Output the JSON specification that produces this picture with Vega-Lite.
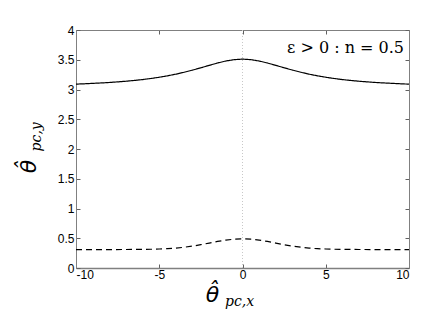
{
  "$schema": "https://vega.github.io/schema/vega-lite/v6.json",
  "width": 333,
  "height": 238,
  "autosize": {"type": "none"},
  "padding": {"left": 76, "top": 30, "right": 27, "bottom": 59},
  "background": "white",
  "config": {
    "view": {"stroke": null},
    "axis": {
      "labelFont": "Liberation Sans",
      "labelFontSize": 12,
      "labelColor": "black",
      "domainColor": "#808080",
      "tickColor": "#606060",
      "grid": false,
      "tickSize": -4,
      "titleColor": "black"
    }
  },
  "datasets": {
    "curves": [
      {"x": -10, "y": 3.09, "s": "solid"}, {"x": -9.5, "y": 3.096, "s": "solid"}, {"x": -9, "y": 3.103, "s": "solid"}, {"x": -8.5, "y": 3.11, "s": "solid"}, {"x": -8, "y": 3.118, "s": "solid"}, {"x": -7.5, "y": 3.128, "s": "solid"}, {"x": -7, "y": 3.139, "s": "solid"}, {"x": -6.5, "y": 3.152, "s": "solid"}, {"x": -6, "y": 3.167, "s": "solid"}, {"x": -5.5, "y": 3.185, "s": "solid"}, {"x": -5, "y": 3.206, "s": "solid"}, {"x": -4.5, "y": 3.23, "s": "solid"}, {"x": -4, "y": 3.258, "s": "solid"}, {"x": -3.5, "y": 3.29, "s": "solid"}, {"x": -3, "y": 3.326, "s": "solid"}, {"x": -2.5, "y": 3.365, "s": "solid"}, {"x": -2, "y": 3.406, "s": "solid"}, {"x": -1.5, "y": 3.445, "s": "solid"}, {"x": -1, "y": 3.479, "s": "solid"}, {"x": -0.5, "y": 3.502, "s": "solid"}, {"x": 0, "y": 3.51, "s": "solid"},
      {"x": 0.5, "y": 3.502, "s": "solid"}, {"x": 1, "y": 3.479, "s": "solid"}, {"x": 1.5, "y": 3.445, "s": "solid"}, {"x": 2, "y": 3.406, "s": "solid"}, {"x": 2.5, "y": 3.365, "s": "solid"}, {"x": 3, "y": 3.326, "s": "solid"}, {"x": 3.5, "y": 3.29, "s": "solid"}, {"x": 4, "y": 3.258, "s": "solid"}, {"x": 4.5, "y": 3.23, "s": "solid"}, {"x": 5, "y": 3.206, "s": "solid"}, {"x": 5.5, "y": 3.185, "s": "solid"}, {"x": 6, "y": 3.167, "s": "solid"}, {"x": 6.5, "y": 3.152, "s": "solid"}, {"x": 7, "y": 3.139, "s": "solid"}, {"x": 7.5, "y": 3.128, "s": "solid"}, {"x": 8, "y": 3.118, "s": "solid"}, {"x": 8.5, "y": 3.11, "s": "solid"}, {"x": 9, "y": 3.103, "s": "solid"}, {"x": 9.5, "y": 3.096, "s": "solid"}, {"x": 10, "y": 3.09, "s": "solid"},
      {"x": -10, "y": 0.31, "s": "dashed"}, {"x": -9, "y": 0.31, "s": "dashed"}, {"x": -8, "y": 0.31, "s": "dashed"}, {"x": -7, "y": 0.311, "s": "dashed"}, {"x": -6.5, "y": 0.312, "s": "dashed"}, {"x": -6, "y": 0.313, "s": "dashed"}, {"x": -5.5, "y": 0.315, "s": "dashed"}, {"x": -5, "y": 0.319, "s": "dashed"}, {"x": -4.5, "y": 0.325, "s": "dashed"}, {"x": -4, "y": 0.334, "s": "dashed"}, {"x": -3.5, "y": 0.349, "s": "dashed"}, {"x": -3, "y": 0.368, "s": "dashed"}, {"x": -2.5, "y": 0.392, "s": "dashed"}, {"x": -2, "y": 0.419, "s": "dashed"}, {"x": -1.5, "y": 0.446, "s": "dashed"}, {"x": -1, "y": 0.469, "s": "dashed"}, {"x": -0.5, "y": 0.484, "s": "dashed"}, {"x": 0, "y": 0.49, "s": "dashed"},
      {"x": 0.5, "y": 0.484, "s": "dashed"}, {"x": 1, "y": 0.469, "s": "dashed"}, {"x": 1.5, "y": 0.446, "s": "dashed"}, {"x": 2, "y": 0.419, "s": "dashed"}, {"x": 2.5, "y": 0.392, "s": "dashed"}, {"x": 3, "y": 0.368, "s": "dashed"}, {"x": 3.5, "y": 0.349, "s": "dashed"}, {"x": 4, "y": 0.334, "s": "dashed"}, {"x": 4.5, "y": 0.325, "s": "dashed"}, {"x": 5, "y": 0.319, "s": "dashed"}, {"x": 5.5, "y": 0.315, "s": "dashed"}, {"x": 6, "y": 0.313, "s": "dashed"}, {"x": 6.5, "y": 0.312, "s": "dashed"}, {"x": 7, "y": 0.311, "s": "dashed"}, {"x": 8, "y": 0.31, "s": "dashed"}, {"x": 9, "y": 0.31, "s": "dashed"}, {"x": 10, "y": 0.31, "s": "dashed"}
    ]
  },
  "resolve": {"axis": {"x": "independent", "y": "independent"}},
  "layer": [
    {
      "data": {"values": [{"x": 0}]},
      "mark": {"type": "rule", "color": "#c8c8c8", "strokeDash": [1, 2], "strokeWidth": 1},
      "encoding": {
        "x": {"field": "x", "type": "quantitative", "scale": {"domain": [-10, 10], "nice": false, "zero": false}, "axis": null}
      }
    },
    {
      "data": {"name": "curves"},
      "mark": {"type": "line", "color": "black", "strokeWidth": 1.2},
      "encoding": {
        "x": {"field": "x", "type": "quantitative", "scale": {"domain": [-10, 10], "nice": false, "zero": false},
          "axis": {"orient": "bottom", "values": [-10, -5, 0, 5, 10], "labelExpr": "datum.value + ''", "labelPadding": 5, "domainWidth": 1.5,
            "title": "θ̂", "titleFont": "DejaVu Sans", "titleFontStyle": "oblique", "titleFontWeight": "normal", "titleFontSize": 22,
            "titleX": 136, "titleY": 33, "titleAlign": "center", "titleBaseline": "alphabetic"}},
        "y": {"field": "y", "type": "quantitative", "scale": {"domain": [0, 4], "nice": false, "zero": false},
          "axis": {"orient": "left", "values": [0, 0.5, 1, 1.5, 2, 2.5, 3, 3.5, 4], "labelExpr": "datum.value + ''", "labelPadding": 6,
            "title": "θ̂", "titleFont": "DejaVu Sans", "titleFontStyle": "oblique", "titleFontWeight": "normal", "titleFontSize": 22,
            "titleX": -41, "titleY": 136, "titleAlign": "center", "titleBaseline": "alphabetic", "titleAngle": 270}},
        "strokeDash": {"field": "s", "type": "nominal", "scale": {"domain": ["solid", "dashed"], "range": [[1, 0], [6, 4]]}, "legend": null},
        "detail": {"field": "s"}
      }
    },
    {
      "data": {"name": "curves"},
      "mark": {"type": "point", "opacity": 0},
      "encoding": {
        "x": {"field": "x", "type": "quantitative", "scale": {"domain": [-10, 10], "nice": false, "zero": false},
          "axis": {"orient": "top", "values": [-10, -5, 0, 5, 10], "labels": false, "title": null}},
        "y": {"field": "y", "type": "quantitative", "scale": {"domain": [0, 4], "nice": false, "zero": false},
          "axis": {"orient": "right", "values": [0, 0.5, 1, 1.5, 2, 2.5, 3, 3.5, 4], "labels": false, "title": null}}
      }
    },
    {
      "data": {"values": [{"x": 9.7, "y": 3.62, "t": "ε > 0 : n = 0.5"}]},
      "mark": {"type": "text", "font": "DejaVu Serif", "fontSize": 16, "align": "right", "baseline": "alphabetic"},
      "encoding": {
        "x": {"field": "x", "type": "quantitative", "scale": {"domain": [-10, 10], "nice": false, "zero": false}, "axis": null},
        "y": {"field": "y", "type": "quantitative", "scale": {"domain": [0, 4], "nice": false, "zero": false}, "axis": null},
        "text": {"field": "t"}
      }
    },
    {
      "data": {"values": [{"x": -1.05, "y": -0.64, "t": "pc,x"}]},
      "mark": {"type": "text", "font": "DejaVu Serif", "fontStyle": "italic", "fontSize": 14, "align": "left", "baseline": "alphabetic"},
      "encoding": {
        "x": {"field": "x", "type": "quantitative", "scale": {"domain": [-10, 10], "nice": false, "zero": false}, "axis": null},
        "y": {"field": "y", "type": "quantitative", "scale": {"domain": [0, 4], "nice": false, "zero": false}, "axis": null},
        "text": {"field": "t"}
      }
    },
    {
      "data": {"values": [{"x": -12.13, "y": 1.96, "t": "pc,y"}]},
      "mark": {"type": "text", "font": "DejaVu Serif", "fontStyle": "italic", "fontSize": 14, "angle": 270, "align": "left", "baseline": "alphabetic"},
      "encoding": {
        "x": {"field": "x", "type": "quantitative", "scale": {"domain": [-10, 10], "nice": false, "zero": false}, "axis": null},
        "y": {"field": "y", "type": "quantitative", "scale": {"domain": [0, 4], "nice": false, "zero": false}, "axis": null},
        "text": {"field": "t"}
      }
    }
  ]
}
